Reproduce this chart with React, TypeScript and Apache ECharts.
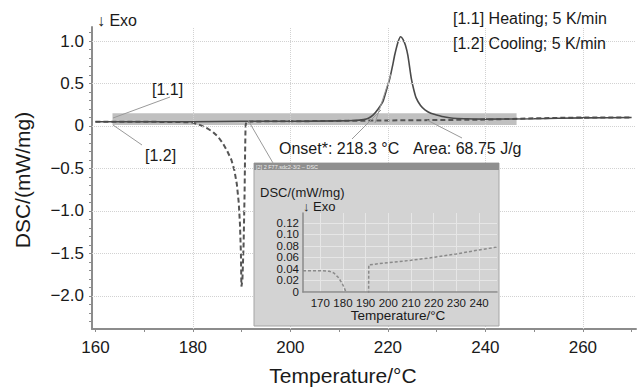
import React, { useEffect, useRef } from 'react';
import * as echarts from 'echarts';

// Heating curve [1.1] (solid)
const heatingT = [160, 170, 180, 190, 200, 210, 213, 215, 216, 217, 218, 219, 219.7, 220.4, 221, 221.4, 222.1, 222.6, 223.1, 223.6, 224.1, 224.8, 225.3, 225.8, 226.7, 227.6, 228.8, 230, 231.7, 233.4, 236, 240, 250, 260, 270];
const heatingV = [0.05, 0.05, 0.05, 0.055, 0.055, 0.06, 0.065, 0.075, 0.09, 0.13, 0.2, 0.29, 0.42, 0.56, 0.72, 0.835, 0.99, 1.05, 1.02, 0.95, 0.83, 0.56, 0.43, 0.33, 0.24, 0.19, 0.15, 0.13, 0.105, 0.09, 0.085, 0.08, 0.085, 0.095, 0.1];

// Cooling curve [1.2] (dashed)
const coolingT = [160, 170, 178, 180, 181.5, 183, 184.1, 185.2, 186.1, 187, 187.9, 188.5, 189, 189.4, 189.65, 189.85, 189.95, 190.15, 190.4, 190.6, 190.7, 190.8, 190.95, 195, 200, 210, 220, 230, 240, 250, 260, 270];
const coolingV = [0.05, 0.05, 0.045, 0.04, 0.01, -0.03, -0.07, -0.13, -0.2, -0.29, -0.4, -0.52, -0.68, -0.9, -1.15, -1.5, -1.89, -1.82, -1.4, -0.8, -0.35, 0.0, 0.05, 0.055, 0.055, 0.06, 0.065, 0.07, 0.075, 0.09, 0.1, 0.1];

// Inset (zoomed cooling curve)
const insetT = [162.4, 170, 174, 176, 178, 179.5, 180.5, 181.3, 182, 191.3, 191.4, 200, 210, 220, 230, 240, 248];
const insetV = [0.037, 0.037, 0.036, 0.033, 0.025, 0.016, 0.008, 0, -0.01, -0.01, 0.047, 0.051, 0.055, 0.06, 0.066, 0.073, 0.078];

// Axis ticks / labels
const xTicks = [160, 170, 180, 190, 200, 210, 220, 230, 240, 250, 260, 270];
const xLabels = [160, 180, 200, 220, 240, 260];
const yLabels = [-2, -1.5, -1, -0.5, 0, 0.5, 1];
const yTicks = [-2.3, -2.2, -2.1, -2, -1.9, -1.8, -1.7, -1.6, -1.5, -1.4, -1.3, -1.2, -1.1, -1, -0.9, -0.8, -0.7, -0.6, -0.5, -0.4, -0.3, -0.2, -0.1, 0, 0.1, 0.2, 0.3, 0.4, 0.5, 0.6, 0.7, 0.8, 0.9, 1, 1.1];
const insetXTicks = [170, 180, 190, 200, 210, 220, 230, 240];
const insetYTicks = [0, 0.02, 0.04, 0.06, 0.08, 0.1, 0.12];
const insetYLabels = ['0', '0.02', '0.04', '0.06', '0.08', '0.10', '0.12'];

const FONT = 'Liberation Sans, Arial, Helvetica, sans-serif';
const TXT = '#1a1a1a';

function zip(a: number[], b: number[]) {
  return a.map((v, i) => [v, b[i]]);
}

function fmtMain(v: number) {
  if (Math.abs(v) < 1e-9) return '0';
  return (v < 0 ? '\u2212' : '') + Math.abs(v).toFixed(1);
}

function txt(x: number, y: number, text: string, size: number, align = 'left', extra: any = {}) {
  return {
    type: 'text', x, y, z: 20,
    style: { text, fontSize: size, fontFamily: FONT, fill: TXT, align, verticalAlign: 'middle' },
    ...extra,
  };
}

function ln(x1: number, y1: number, x2: number, y2: number) {
  return { type: 'line', z: 5, shape: { x1, y1, x2, y2 }, style: { stroke: '#9a9a9a', lineWidth: 1 } };
}

export default function App() {
  const ref = useRef<HTMLDivElement>(null);
  useEffect(() => {
    if (!ref.current) return;
    const chart = echarts.init(ref.current, null, { renderer: 'svg' });
    const option: any = {
      animation: false,
      backgroundColor: '#ffffff',
      textStyle: { fontFamily: FONT },
      grid: [
        { left: 92, right: 8, top: 27, bottom: 59 },
        { left: 303, right: 147, top: 213, bottom: 96 },
      ],
      xAxis: [
        {
          type: 'value', gridIndex: 0, min: 159.3, max: 270.9,
          axisLine: { show: true, onZero: false, lineStyle: { color: '#8c8c8c', width: 2 } },
          axisTick: { show: true, customValues: xTicks, length: 3, lineStyle: { color: '#8c8c8c' } },
          axisLabel: { customValues: xLabels, fontSize: 17, color: TXT, margin: 10, fontFamily: FONT },
          splitLine: { show: false },
        },
        {
          type: 'value', gridIndex: 1, min: 162.4, max: 247.9, z: 11,
          axisLine: { show: true, onZero: false, lineStyle: { color: '#8a8a8a', width: 1.5 } },
          axisTick: { show: false, customValues: insetXTicks },
          axisLabel: { customValues: insetXTicks, fontSize: 11.5, color: TXT, margin: 5, fontFamily: FONT, showMinLabel: true, showMaxLabel: true },
          splitLine: { show: true, lineStyle: { color: '#e6e6e6', width: 1 } },
        },
      ],
      yAxis: [
        {
          type: 'value', gridIndex: 0, min: -2.39, max: 1.165,
          axisLine: { show: true, onZero: false, lineStyle: { color: '#8c8c8c', width: 2 } },
          axisTick: { show: true, customValues: yTicks, length: 3, lineStyle: { color: '#8c8c8c' } },
          axisLabel: { customValues: yLabels, fontSize: 17, color: TXT, margin: 8, fontFamily: FONT, formatter: fmtMain, showMinLabel: true, showMaxLabel: true },
          splitLine: { show: false },
        },
        {
          type: 'value', gridIndex: 1, min: 0, max: 0.137, z: 11,
          axisLine: { show: true, onZero: false, lineStyle: { color: '#8a8a8a', width: 1.5 } },
          axisTick: { show: false, customValues: insetYTicks },
          axisLabel: { show: false },
          splitLine: { show: true, lineStyle: { color: '#e6e6e6', width: 1 } },
        },
      ],
      series: [
        {
          type: 'line', xAxisIndex: 0, yAxisIndex: 0, z: 1,
          data: [[160, 0.05]], showSymbol: false, lineStyle: { opacity: 0 },
          markLine: {
            silent: true, symbol: 'none', label: { show: false },
            lineStyle: { type: 'dotted', color: '#d2d2d2', width: 1 },
            data: [
              ...xLabels.filter((v) => v > 160).map((v) => ({ xAxis: v })),
              ...yLabels.map((v) => ({ yAxis: v })),
            ],
          },
          markArea: {
            silent: true,
            itemStyle: { color: '#c0c0c0' },
            data: [[{ xAxis: 163.5, yAxis: 0.01 }, { xAxis: 246.4, yAxis: 0.15 }]],
          },
        },
        {
          name: '[1.2] Cooling', type: 'line', xAxisIndex: 0, yAxisIndex: 0, z: 3,
          data: zip(coolingT, coolingV), showSymbol: false,
          lineStyle: { color: '#555555', width: 2, type: [5, 3] },
        },
        {
          name: '[1.1] Heating', type: 'line', xAxisIndex: 0, yAxisIndex: 0, z: 4,
          data: zip(heatingT, heatingV), showSymbol: false, smooth: 0.2,
          lineStyle: { color: '#4a4a4a', width: 1.6 },
        },
        {
          name: 'inset', type: 'line', xAxisIndex: 1, yAxisIndex: 1, z: 12,
          data: zip(insetT, insetV), showSymbol: false,
          lineStyle: { color: '#8a8a8a', width: 1.5, type: [3, 2] },
        },
      ],
    };
    chart.setOption(option);

    // Inset y-axis labels placed through the inset axis scale
    const axisX = chart.convertToPixel({ xAxisIndex: 1 }, 162.4) as number;
    const insetLabelEls = insetYTicks.map((v, i) => {
      const py = chart.convertToPixel({ yAxisIndex: 1 }, v) as number;
      return {
        type: 'text', x: axisX - 4, y: py, z: 20,
        style: { text: insetYLabels[i], fontSize: 11.5, fontFamily: FONT, fill: TXT, align: 'right', verticalAlign: 'middle' },
      };
    });

    const graphics: any[] = [
      // Inset panel
      { type: 'rect', z: 10, shape: { x: 254, y: 163, width: 245, height: 163 }, style: { fill: '#d3d3d3', stroke: '#a5a5a5', lineWidth: 1 } },
      { type: 'rect', z: 10, shape: { x: 254, y: 163, width: 245, height: 7 }, style: { fill: '#8f8f8f' } },
      { type: 'text', z: 20, x: 256, y: 166.5, style: { text: '[2] 2 F77.sdc2-3/2 \u2013 DSC', fontSize: 5.5, fontFamily: FONT, fill: '#eeeeee', align: 'left', verticalAlign: 'middle' } },
      txt(260, 192, 'DSC/(mW/mg)', 13),
      txt(303, 206, '\u2193 Exo', 13),
      txt(398, 315, 'Temperature/\u00B0C', 13.5, 'center'),
      ...insetLabelEls,
      // Leader lines
      ln(170, 97, 113, 118),
      ln(113, 125, 142, 145),
      ln(391, 74, 375, 123),
      ln(381, 110, 352, 139),
      ln(427, 120, 462, 138),
      ln(248, 120, 273, 163),
      // Main annotations
      txt(97, 20, '\u2193 Exo', 16),
      txt(453, 18, '[1.1] Heating; 5 K/min', 16),
      txt(453, 43, '[1.2] Cooling; 5 K/min', 16),
      txt(152, 89, '[1.1]', 16),
      txt(145, 155, '[1.2]', 16),
      txt(279, 148, 'Onset*: 218.3 \u00B0C', 16),
      txt(413, 148, 'Area: 68.75 J/g', 16),
      // Axis titles
      txt(343, 375, 'Temperature/\u00B0C', 21, 'center'),
      txt(22, 180, 'DSC/(mW/mg)', 21, 'center', { rotation: Math.PI / 2 }),
    ];
    chart.setOption({ graphic: graphics });
    return () => chart.dispose();
  }, []);
  return <div ref={ref} style={{ width: 644, height: 388, position: 'absolute', left: 0, top: 0 }} />;
}
